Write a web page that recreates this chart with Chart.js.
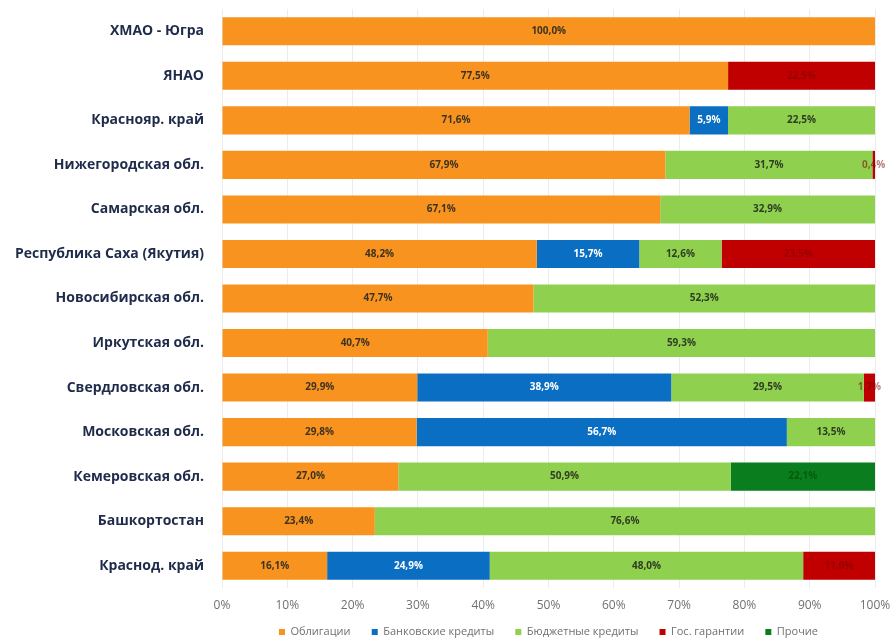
<!DOCTYPE html>
<html>
<head>
<meta charset="utf-8">
<script src="https://cdn.jsdelivr.net/npm/chart.js@4"></script>
<style>
  body { margin: 0; background: #fff; }
  #wrap { width: 893px; height: 643px; }
</style>
</head>
<body>
<div id="wrap"><canvas id="debtChart"></canvas></div>
<script>
const regions = ["ХМАО - Югра", "ЯНАО", "Краснояр. край", "Нижегородская обл.", "Самарская обл.",
  "Республика Саха (Якутия)", "Новосибирская обл.", "Иркутская обл.", "Свердловская обл.",
  "Московская обл.", "Кемеровская обл.", "Башкортостан", "Краснод. край"];

const bonds     = [100.0, 77.5, 71.6, 67.9, 67.1, 48.2, 47.7, 40.7, 29.9, 29.8, 27.0, 23.4, 16.1];
const bankLoans = [0, 0, 5.9, 0, 0, 15.7, 0, 0, 38.9, 56.7, 0, 0, 24.9];
const budgetLoans = [0, 0, 22.5, 31.7, 32.9, 12.6, 52.3, 59.3, 29.5, 13.5, 50.9, 76.6, 48.0];
const guarantees = [0, 22.5, 0, 0.4, 0, 23.5, 0, 0, 1.7, 0, 0, 0, 11.0];
const other     = [0, 0, 0, 0, 0, 0, 0, 0, 0, 0, 22.1, 0, 0];

const seriesNames = ["Облигации", "Банковские кредиты", "Бюджетные кредиты", "Гос. гарантии", "Прочие"];
const xTicks = [0, 10, 20, 30, 40, 50, 60, 70, 80, 90, 100];

const colors = ['#f8931f', '#0a6fc2', '#8fd14f', '#c00000', '#0a7d1e'];
const labelColors = ['#3d3320', '#ffffff', '#2f3d22', 'rgba(120,0,0,0.55)', 'rgba(0,70,0,0.6)'];

function fmt(v) {
  return v.toFixed(1).replace('.', ',') + '%';
}

// draws the value inside each segment
const segmentLabels = {
  id: 'segmentLabels',
  afterDatasetsDraw(chart) {
    const ctx = chart.ctx;
    ctx.save();
    ctx.font = 'bold 10px "Open Sans", sans-serif';
    ctx.textAlign = 'center';
    ctx.textBaseline = 'middle';
    chart.data.datasets.forEach((ds, i) => {
      const meta = chart.getDatasetMeta(i);
      meta.data.forEach((bar, j) => {
        const v = ds.data[j];
        if (!v) return;
        const cx = (bar.x + bar.base) / 2;
        ctx.fillStyle = labelColors[i];
        ctx.fillText(fmt(v), cx, bar.y);
      });
    });
    ctx.restore();
  }
};

const datasets = [bonds, bankLoans, budgetLoans, guarantees, other].map((d, i) => ({
  label: seriesNames[i],
  data: d,
  backgroundColor: colors[i],
  borderWidth: 0,
  categoryPercentage: 0.63,
  barPercentage: 1
}));

new Chart('debtChart', {
  type: 'bar',
  data: { labels: regions, datasets: datasets },
  options: {
    indexAxis: 'y',
    responsive: true,
    maintainAspectRatio: false,
    animation: false,
    layout: { padding: { top: 9, right: 18, left: 0, bottom: 0 } },
    scales: {
      x: {
        stacked: true,
        min: 0,
        max: 100,
        afterBuildTicks: (scale) => { scale.ticks = xTicks.map(v => ({ value: v })); },
        afterFit: (scale) => {
          scale.paddingLeft = 0;
          scale.paddingRight = 0;
        },
        ticks: {
          callback: (v) => v + '%',
          color: '#707070',
          font: { size: 12, family: '"Open Sans", sans-serif' },
          padding: 10
        },
        grid: { color: '#ececec', drawTicks: false },
        border: { display: false }
      },
      y: {
        stacked: true,
        afterFit: (scale) => {
          scale.width = 222;
          scale.paddingTop = 0;
          scale.paddingBottom = 0;
        },
        ticks: {
          color: '#1f2b4a',
          font: { size: 14, weight: 'bold', family: '"Open Sans", sans-serif' },
          padding: 10
        },
        grid: { display: false },
        border: { display: false }
      }
    },
    plugins: {
      legend: {
        position: 'bottom',
        fullSize: false,
        maxHeight: 20.6,
        labels: {
          boxWidth: 6,
          boxHeight: 6,
          padding: 4,
          color: '#707070',
          font: { size: 11, family: '"Open Sans", sans-serif' },
          // a little extra room after each item
          generateLabels: (chart) => {
            const items = Chart.defaults.plugins.legend.labels.generateLabels(chart);
            items.forEach((it, i) => { if (i < items.length - 1) it.text += '      '; });
            return items;
          }
        }
      },
      tooltip: { enabled: false }
    }
  },
  plugins: [segmentLabels]
});
</script>
</body>
</html>
